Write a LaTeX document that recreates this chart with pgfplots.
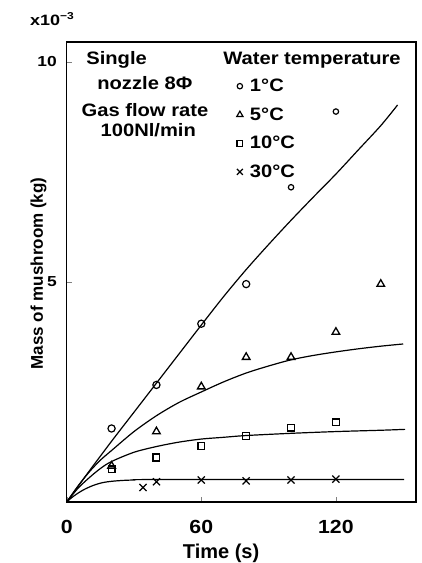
\documentclass[border=0pt]{standalone}
\usepackage{pgfplots}
\pgfplotsset{compat=1.18}
\usepackage{fontspec}
\setmainfont{Liberation Sans}
\newfontfamily\wf[FakeStretch=1.12]{Liberation Sans}
\newfontfamily\wwf[FakeStretch=1.2]{Liberation Sans}

\begin{document}
\begin{tikzpicture}
\begin{axis}[
    scale only axis,
    width=349.3pt, height=460pt,
    xmin=0, xmax=155.7, ymin=0, ymax=10.45,
    xtick={0,60,120}, ytick={5,10},
    tick align=inside, tick pos=left, major tick length=5pt,
    every axis/.append style={line width=1.3pt},
    /pgf/number format/assume math mode=true,
    xticklabel style={font=\wf\bfseries\fontsize{19}{21}\selectfont, yshift=-14pt},
    yticklabel style={font=\wwf\bfseries\fontsize{14.5}{16}\selectfont, xshift=-6pt},
    xlabel={Time (s)},
    xlabel style={font=\bfseries\fontsize{20}{22}\selectfont, at={(axis description cs:0.442,-0.111)}, anchor=center},
    ylabel={Mass of mushroom (kg)},
    ylabel style={font=\bfseries\fontsize{17}{19}\selectfont, at={(axis description cs:-0.081,0.497)}, anchor=center},
    legend style={draw=none, fill=none, at={(axis description cs:0.485,0.925)}, anchor=north west,
        row sep=10.5pt, column sep=5pt, inner sep=0pt, font=\wf\bfseries\fontsize{18}{20}\selectfont},
    legend cell align=left,
]
% fitted curves
\addplot[smooth, line width=1.2pt, forget plot] coordinates {
    (0,0) (10,0.70) (20,1.38) (30,2.04) (40,2.70) (50,3.36) (60,4.02) (70,4.67) (80,5.28)
    (90,5.85) (100,6.40) (110,6.93) (120,7.45) (130,8.00) (140,8.55) (147.5,9.02)};
\addplot[smooth, line width=1.2pt, forget plot] coordinates {
    (0,0) (5,0.36) (10,0.68) (15,0.95) (20,1.17) (30,1.60) (40,1.96) (50,2.26) (60,2.50)
    (70,2.73) (80,2.93) (90,3.09) (100,3.23) (110,3.33) (120,3.41) (130,3.48) (140,3.54) (150,3.59)};
\addplot[smooth, line width=1.2pt, forget plot] coordinates {
    (0,0) (5,0.31) (10,0.55) (15,0.76) (20,0.92) (30,1.13) (40,1.26) (50,1.36) (60,1.43)
    (70,1.47) (80,1.51) (100,1.56) (120,1.60) (140,1.63) (150.8,1.65)};
\addplot[smooth, line width=1.2pt, forget plot] coordinates {
    (0,0) (2,0.09) (5,0.20) (8,0.29) (12,0.38) (16,0.44) (20,0.47) (25,0.49) (30,0.50)
    (40,0.51) (150.4,0.51)};

% measured points
\addplot[only marks, mark=o, mark size=3.6pt, mark options={line width=1.2pt}, forget plot]
    coordinates {(20,1.67) (40,2.66) (60,4.05) (80,4.95)};
\addplot[only marks, mark=o, mark size=2.7pt, mark options={line width=1.2pt}, forget plot]
    coordinates {(100,7.15) (120,8.87)};
\addplot[only marks, mark=triangle, mark size=4.4pt, mark options={line width=1.3pt}, forget plot]
    coordinates {(20,0.82) (40,1.60) (60,2.62) (80,3.29) (100,3.29) (120,3.86) (140,4.95)};
\addplot[only marks, mark=square, mark size=3.4pt, mark options={line width=1.3pt}, forget plot]
    coordinates {(20,0.74) (40,1.01) (60,1.27) (80,1.50) (100,1.69) (120,1.81)};
\addplot[only marks, mark=x, mark size=5pt, mark options={line width=1.3pt}, forget plot]
    coordinates {(34,0.33) (40,0.46) (60,0.50) (80,0.48) (100,0.50) (120,0.52)};

\addlegendimage{only marks, mark=o, mark size=2.7pt, mark options={line width=1.2pt}}
\addlegendentry{1°C}
\addlegendimage{only marks, mark=triangle, mark size=3.6pt, mark options={line width=1.2pt}}
\addlegendentry{5°C}
\addlegendimage{only marks, mark=square, mark size=2.8pt, mark options={line width=1.2pt}}
\addlegendentry{10°C}
\addlegendimage{only marks, mark=x, mark size=4.2pt, mark options={line width=1.2pt}}
\addlegendentry{30°C}

\begin{scope}[every node/.style={font=\wf\bfseries\fontsize{18}{20}\selectfont, inner sep=0pt, anchor=base west}]
\node at (axis description cs:0.0544,0.951) {Single};
\node at (axis description cs:0.0859,0.8957) {nozzle 8Φ};
\node at (axis description cs:0.041,0.8376) {Gas flow rate};
\node at (axis description cs:0.0953,0.794) {100Nl/min};
\node at (axis description cs:0.4466,0.951) {Water temperature};
\end{scope}
\end{axis}
\node[anchor=base west, inner sep=0pt, font=\wwf\bfseries\fontsize{15}{17}\selectfont]
    at ([xshift=-36.7pt, yshift=16pt]current axis.north west) {x10\raisebox{6pt}{\fontsize{10}{11}\selectfont −3}};
\pgfresetboundingbox
\path[use as bounding box] (current axis.south west) ++(-66.7pt,-61pt) rectangle ++(421pt,563pt);
\end{tikzpicture}
\end{document}
